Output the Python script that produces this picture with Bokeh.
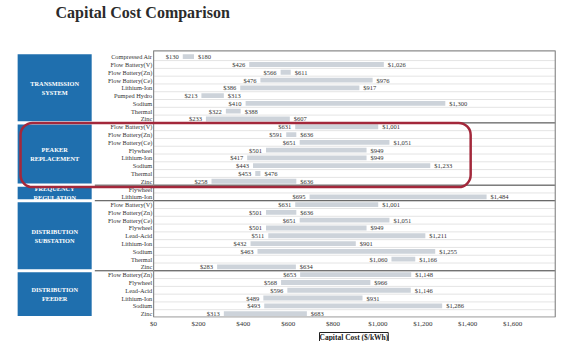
from bokeh.plotting import figure
from bokeh.models import Range1d, FixedTicker, NumeralTickFormatter, BoxAnnotation, Title, ColumnDataSource
from bokeh.core.properties import value
from bokeh.embed import file_html
from bokeh.resources import INLINE

# ---------------- data ----------------
chart_title = "Capital Cost Comparison"
axis_title = "Capital Cost ($/kWh)"
group_names = ["TRANSMISSION\nSYSTEM", "PEAKER\nREPLACEMENT", "FREQUENCY\nREGULATION",
               "DISTRIBUTION\nSUBSTATION", "DISTRIBUTION\nFEEDER"]

trans_tech = ["Compressed Air", "Flow Battery(V)", "Flow Battery(Zn)", "Flow Battery(Ce)",
              "Lithium-Ion", "Pumped Hydro", "Sodium", "Thermal", "Zinc"]
trans_low = [130, 426, 566, 476, 386, 213, 410, 322, 233]
trans_high = [180, 1026, 611, 976, 917, 313, 1300, 388, 607]

peaker_tech = ["Flow Battery(V)", "Flow Battery(Zn)", "Flow Battery(Ce)", "Flywheel",
               "Lithium-Ion", "Sodium", "Thermal", "Zinc"]
peaker_low = [631, 591, 651, 501, 417, 443, 453, 258]
peaker_high = [1001, 636, 1051, 949, 949, 1233, 476, 636]

freq_tech = ["Flywheel", "Lithium-Ion"]
freq_low = [None, 695]
freq_high = [None, 1484]

sub_tech = ["Flow Battery(V)", "Flow Battery(Zn)", "Flow Battery(Ce)", "Flywheel", "Lead-Acid",
            "Lithium-Ion", "Sodium", "Thermal", "Zinc"]
sub_low = [631, 501, 651, 501, 511, 432, 463, 1060, 283]
sub_high = [1001, 636, 1051, 949, 1211, 901, 1255, 1166, 634]

feeder_tech = ["Flow Battery(Zn)", "Flywheel", "Lead-Acid", "Lithium-Ion", "Sodium", "Zinc"]
feeder_low = [653, 568, 596, 489, 493, 313]
feeder_high = [1148, 966, 1146, 931, 1286, 683]

x_ticks = [0, 200, 400, 600, 800, 1000, 1200, 1400, 1600]

groups = [
    (trans_tech, trans_low, trans_high),
    (peaker_tech, peaker_low, peaker_high),
    (freq_tech, freq_low, freq_high),
    (sub_tech, sub_low, sub_high),
    (feeder_tech, feeder_low, feeder_high),
]

# ---------------- assemble ----------------
row_y, row_name = [], []
bar_y, bar_lo, bar_hi, lo_txt, hi_txt = [], [], [], [], []
g_top, g_bot, g_mid, g_txt = [], [], [], []
sep_y = []
r = 0
for gi, (tech, lo, hi) in enumerate(groups):
    start = r
    for t, a, b in zip(tech, lo, hi):
        row_y.append(r)
        row_name.append(t)
        if a is not None:
            bar_y.append(r)
            bar_lo.append(a)
            bar_hi.append(b)
            lo_txt.append(f"${a:,.0f}")
            hi_txt.append(f"${b:,.0f}")
        r += 1
    end = r - 1
    g_top.append(start - 0.3)
    g_bot.append(end + 0.3)
    g_mid.append((start + end) / 2)
    g_txt.append(group_names[gi])
    if gi < len(groups) - 1:
        sep_y.append(end + 0.5)
n_rows = r

FONT = "Liberation Serif"
XMIN, XMAX = -620, 1800

p = figure(width=563, height=341, output_backend="svg", toolbar_location=None, title=None,
           x_range=Range1d(XMIN, XMAX), y_range=Range1d(n_rows - 0.5, -7.22),
           min_border_left=14, min_border_right=6, min_border_top=0, min_border_bottom=0,
           outline_line_color=None)

p.xgrid.visible = False
p.ygrid.visible = False
p.yaxis.visible = False
p.xaxis.ticker = FixedTicker(ticks=x_ticks)
p.xaxis.formatter = NumeralTickFormatter(format="$0,0")
p.xaxis.axis_line_color = None
p.xaxis.major_tick_line_color = None
p.xaxis.minor_tick_line_color = None
p.xaxis.major_label_text_font = FONT
p.xaxis.major_label_text_font_size = "7px"
p.xaxis.major_label_text_color = "#333333"
p.xaxis.major_label_standoff = 2
p.xaxis.major_tick_out = 0
p.xaxis.major_tick_in = 0

xt = Title(text=axis_title, align="left", offset=305, text_font=FONT,
           text_font_size="7.5px", text_font_style="bold", text_color="#222222",
           border_line_color="#222222", background_fill_color="white", standoff=0)
p.add_layout(xt, "below")

# chart title (drawn in the frame area above the rows)
p.text(x=[-437], y=[-5.67], text=[chart_title], text_align="left", text_baseline="middle",
       text_font=value(FONT), text_font_size=value("16px"), text_font_style="bold",
       text_color="#2b2b2b")

# faint row lines
row_lines = [y + 0.5 for y in row_y[:-1]]
p.segment(x0=[0] * len(row_lines), x1=[1790] * len(row_lines), y0=row_lines, y1=row_lines,
          line_color="#e4e4e4", line_width=1)

# section separators
p.segment(x0=[-262] * len(sep_y), x1=[1790] * len(sep_y), y0=sep_y, y1=sep_y,
          line_color="#444444", line_width=1)

# bar area border
p.quad(left=[0], right=[1790], top=[-0.75], bottom=[n_rows - 0.55], fill_color=None,
       line_color="#8c8c8c", line_width=1.2)

# bars
src = ColumnDataSource(dict(y=bar_y, lo=bar_lo, hi=bar_hi, lt=lo_txt, ht=hi_txt))
p.hbar(y="y", left="lo", right="hi", height=0.62, source=src,
       fill_color="#cdd3da", line_color=None)
p.text(x="lo", y="y", text="lt", source=src, x_offset=-4, text_align="right",
       text_baseline="middle", text_font=value(FONT), text_font_size=value("6.5px"),
       text_color="#333333")
p.text(x="hi", y="y", text="ht", source=src, x_offset=4, text_align="left",
       text_baseline="middle", text_font=value(FONT), text_font_size=value("6.5px"),
       text_color="#333333")

# row labels
p.text(x=[-6] * len(row_y), y=row_y, text=row_name, text_align="right", text_baseline="middle",
       text_font=value(FONT), text_font_size=value("6.3px"), text_color="#333333")

# group boxes
p.quad(left=[-606] * len(g_top), right=[-276] * len(g_top), top=g_top, bottom=g_bot,
       fill_color="#1f6fae", line_color=None)
p.text(x=[-441] * len(g_mid), y=g_mid, text=g_txt, text_align="center", text_baseline="middle",
       text_font=value(FONT), text_font_size=value("6.3px"), text_font_style="bold",
       text_color="white", text_line_height=1.25)

# highlight around peaker replacement
hl = BoxAnnotation(left=-593, right=1413, top=8.5, bottom=16.75, fill_alpha=0,
                   line_color="#a3283b", line_alpha=1.0, line_width=2.5, border_radius=12)
p.add_layout(hl)

open("out.html", "w").write(file_html(p, INLINE))
